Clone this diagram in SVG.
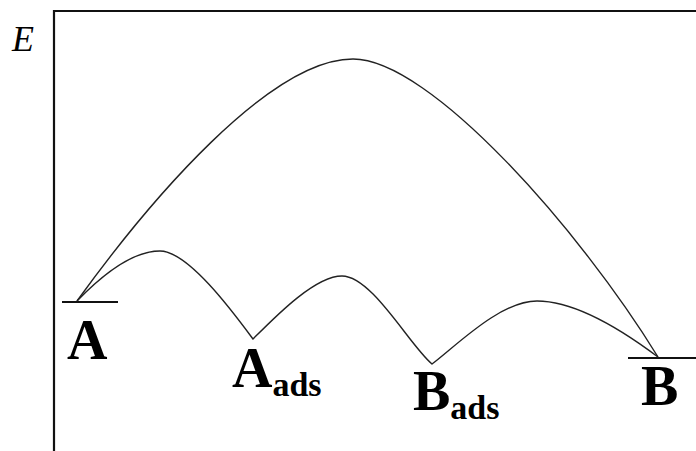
<svg xmlns="http://www.w3.org/2000/svg" width="696" height="451" viewBox="0 0 696 451">
<style>
.ax{stroke:#111;stroke-width:2.2;fill:none}
.lvl{stroke:#111;stroke-width:2;fill:none}
.cv{stroke:#222;stroke-width:1.4;fill:none}
.lbl{font-family:"Liberation Serif","Times New Roman",serif;font-weight:bold;fill:#000}
</style>
<rect width="696" height="451" fill="#fff"/>
<g id="axes">
<path class="ax" d="M54,451 V11 H696"/>
<text x="12" y="51" font-family="Liberation Serif, serif" font-style="italic" font-size="36" fill="#000">E</text>
</g>
<g id="node-A">
<line class="lvl" x1="62" y1="302" x2="118" y2="302"/>
<text class="lbl" x="67" y="359" font-size="56">A</text>
</g>
<g id="node-Aads">
<text class="lbl" x="232" y="387" font-size="56">A<tspan font-size="34" dy="9">ads</tspan></text>
</g>
<g id="node-Bads">
<text class="lbl" x="413" y="410" font-size="56">B<tspan font-size="34" dy="9">ads</tspan></text>
</g>
<g id="node-B">
<line class="lvl" x1="628" y1="358" x2="696" y2="358"/>
<text class="lbl" x="641" y="405" font-size="56">B</text>
</g>
<g id="connectors">
<path class="cv" d="M77,301 C150,200 270,59 353,59 C430,59 580,230 658,357"/>
<path class="cv" d="M77,301 C105,272 135,251 160,251 C188,251 233,312 253,339 C276,316 315,276 342,276 C372,276 410,346 432,364 C456,346 500,301 537,301 C580,301 630,336 658,357"/>
</g>
</svg>
